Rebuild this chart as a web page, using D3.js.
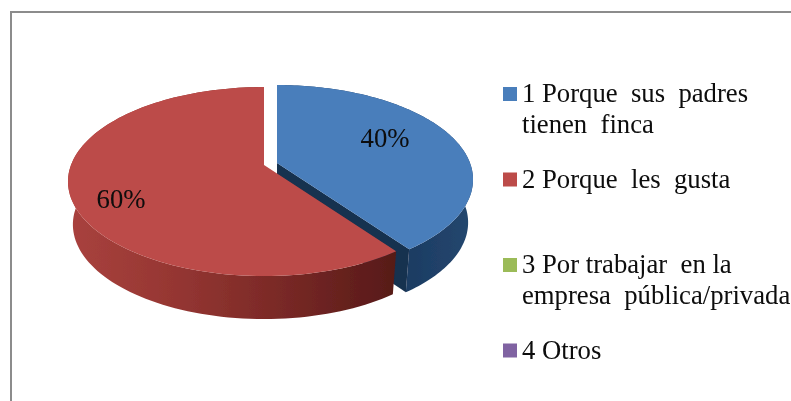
<!DOCTYPE html>
<html>
<script src='https://d3js.org/d3.v7.min.js'></script>
<style>
html, body {margin: 0; padding: 0; background: white;}
text {font-family: 'Liberation Serif', serif; fill: #0a0a0a; white-space: pre;}
</style>
<body>
<script>
// chart values
var categories = ['1', '2', '3', '4'];
var values = [40, 60, 0, 0];
var percentLabels = ['40%', '60%', '', ''];
var legendLines = [
  ['1 Porque  sus  padres', 'tienen  finca'],
  ['2 Porque  les  gusta'],
  ['3 Por trabajar  en la', 'empresa  pública/privada'],
  ['4 Otros']
];
var topColors = ['#4a7ebb', '#bc4b48', '#9bbb59', '#8064a2'];

var svg = d3.select('body').append('svg')
  .attr('width', 791)
  .attr('height', 401)
  .style('display', 'block');

//frame, only top and left are visible
svg.append('path')
  .attr('d', 'M11,401V12H791')
  .attr('fill', 'none')
  .attr('stroke', '#8c8c8c')
  .attr('stroke-width', 2);

var defs = svg.append('defs');
defs.append('filter').attr('id', 'soft')
  .append('feGaussianBlur').attr('stdDeviation', 0.7);
defs.append('filter').attr('id', 'softText')
  .append('feGaussianBlur').attr('stdDeviation', 0.35);

var redWall = defs.append('linearGradient').attr('id', 'redWall')
  .attr('gradientUnits', 'userSpaceOnUse')
  .attr('x1', 68).attr('x2', 395).attr('y1', 0).attr('y2', 0);
redWall.append('stop').attr('offset', '0').attr('stop-color', '#a9423e');
redWall.append('stop').attr('offset', '0.3').attr('stop-color', '#973733');
redWall.append('stop').attr('offset', '0.6').attr('stop-color', '#7e2b28');
redWall.append('stop').attr('offset', '1').attr('stop-color', '#571a18');

var blueWall = defs.append('linearGradient').attr('id', 'blueWall')
  .attr('gradientUnits', 'userSpaceOnUse')
  .attr('x1', 395).attr('x2', 473).attr('y1', 0).attr('y2', 0);
blueWall.append('stop').attr('offset', '0').attr('stop-color', '#1b3a60');
blueWall.append('stop').attr('offset', '1').attr('stop-color', '#24476f');

var wallFill = ['url(#blueWall)', 'url(#redWall)'];

//pie angles, clockwise from the top
var arcs = d3.pie().sort(null)(values);

//tilted disc with perspective: back half looks shorter than the front
var tilt = 0.175, rx = 193, ry = 91.6, depth = 43;
var hubs = [[277, 163], [264, 165]];

function project(hub, a, r, drop, shrink) {
  var u = r * Math.sin(a), v = r * Math.cos(a);
  var k = 1 + tilt * v;
  return [hub[0] + shrink * rx * u / k, hub[1] - ry * v / k + drop];
}

function rim(d, hub, drop, shrink) {
  var step = (d.endAngle - d.startAngle) / 120;
  return d3.range(121).map(function(i) {
    return project(hub, d.startAngle + i * step, 1, drop, shrink);
  });
}

var line = d3.line();
var pieG = svg.append('g').attr('filter', 'url(#soft)');

//blue first, red overlaps its wall
[0, 1].forEach(function(i) {
  var d = arcs[i], hub = hubs[i];
  var top = rim(d, hub, 0, 1);
  var bottom = rim(d, hub, depth, 0.975);

  //side wall along the rim
  pieG.append('path')
    .attr('d', line(top.concat(bottom.slice().reverse())) + 'Z')
    .attr('fill', wallFill[i]);

  //cut wall on the blue slice, seen through the gap
  if (i == 0) {
    pieG.append('path')
      .attr('d', line([hub, top[120], bottom[120], [hub[0], hub[1] + depth]]) + 'Z')
      .attr('fill', '#16304f');
  }

  pieG.append('path')
    .attr('d', line([hub].concat(top)) + 'Z')
    .attr('fill', topColors[i]);
});

var textG = svg.append('g').attr('filter', 'url(#softText)');

//data labels
var labelX = d3.scaleOrdinal().domain(categories).range([385, 121]);
var labelY = d3.scaleOrdinal().domain(categories).range([147, 208]);
textG.selectAll('.pct')
  .data(categories.slice(0, 2))
  .enter().append('text')
  .attr('class', 'pct')
  .attr('x', function(d) { return labelX(d); })
  .attr('y', function(d) { return labelY(d); })
  .attr('text-anchor', 'middle')
  .style('font-size', '26.7px')
  .text(function(d, i) { return percentLabels[i]; });

//legend
var rowY = d3.scalePoint().domain(categories).range([94, 350.5]);
var legend = textG.selectAll('.legend')
  .data(categories)
  .enter().append('g')
  .attr('class', 'legend')
  .attr('transform', function(d) { return 'translate(0,' + rowY(d) + ')'; });

legend.append('rect')
  .attr('x', 503)
  .attr('y', -7)
  .attr('width', 14)
  .attr('height', 14)
  .attr('fill', function(d, i) { return topColors[i]; });

legend.selectAll('text')
  .data(function(d, i) { return legendLines[i]; })
  .enter().append('text')
  .attr('x', 522)
  .attr('y', function(d, i) { return 8 + i * 31; })
  .style('font-size', '26.7px')
  .text(function(d) { return d; });
</script>
</body>
</html>
